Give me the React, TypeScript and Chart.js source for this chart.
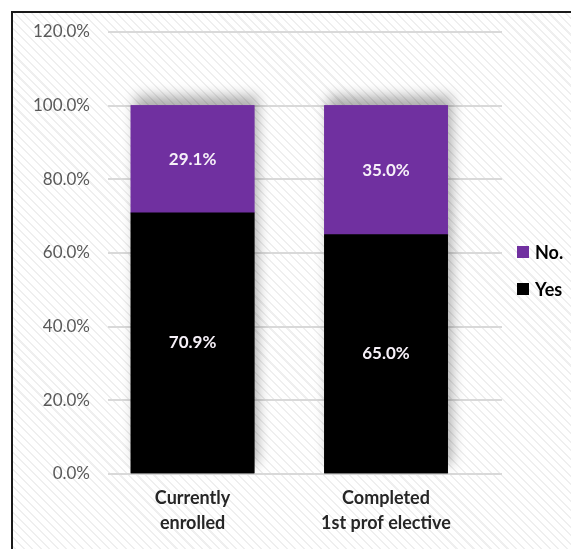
import React, { useEffect, useRef } from 'react';
import { Chart, registerables } from 'chart.js';

Chart.register(...registerables);

// Survey answers per group, stacked to 100%
const categories: string[][] = [
  ['Currently', 'enrolled'],
  ['Completed', '1st prof elective'],
];
const yesValues: number[] = [70.9, 65.0];
const noValues: number[] = [29.1, 35.0];
const yTickValues: number[] = [0, 20, 40, 60, 80, 100, 120];
const seriesNames: string[] = ['Yes', 'No.'];
const seriesColors: string[] = ['#000000', '#7030A0'];

const FONT = 'Lato, "Open Sans", "DejaVu Sans", sans-serif';

// Soft shadow under the stacked bars (bottom segment first, so the upper
// segment hides it), then the centred value labels on top
const barDecor = {
  id: 'barDecor',
  beforeDatasetsDraw(chart: any) {
    const ctx = chart.ctx;
    ctx.save();
    ctx.shadowColor = 'rgba(0,0,0,0.32)';
    ctx.shadowBlur = 12;
    ctx.shadowOffsetX = 4;
    ctx.shadowOffsetY = -9;
    chart.data.datasets.forEach((_: any, di: number) => {
      chart.getDatasetMeta(di).data.forEach((el: any) => el.draw(ctx));
    });
    ctx.restore();
  },
  afterDatasetsDraw(chart: any) {
    const ctx = chart.ctx;
    ctx.save();
    ctx.font = `bold 17px ${FONT}`;
    ctx.fillStyle = '#f6f0f8';
    ctx.textAlign = 'center';
    ctx.textBaseline = 'middle';
    chart.data.datasets.forEach((ds: any, di: number) => {
      const meta = chart.getDatasetMeta(di);
      meta.data.forEach((el: any, i: number) => {
        const v = ds.data[i].y as number;
        const { x, y, base } = el.getProps(['x', 'y', 'base'], true);
        ctx.fillText(v.toFixed(1) + '%', x, (y + base) / 2);
      });
    });
    ctx.restore();
  },
};

// Legend stacked on the right, top series first
const sideLegend = {
  id: 'sideLegend',
  afterDraw(chart: any) {
    const { ctx, chartArea } = chart;
    const x = chartArea.right + 15;
    const mid = (chartArea.top + chartArea.bottom) / 2;
    const rowGap = 37;
    const items = chart.data.datasets.slice().reverse();
    ctx.save();
    ctx.font = `bold 18px ${FONT}`;
    ctx.textBaseline = 'middle';
    ctx.textAlign = 'left';
    items.forEach((d: any, i: number) => {
      const cy = mid - 1 + i * rowGap;
      ctx.fillStyle = d.backgroundColor;
      ctx.fillRect(x, cy - 6, 12, 12);
      ctx.fillStyle = '#000000';
      ctx.fillText(d.label, x + 18, cy + 1);
    });
    ctx.restore();
  },
};

function StackedChart() {
  const canvasRef = useRef<HTMLCanvasElement | null>(null);

  useEffect(() => {
    if (!canvasRef.current) return;
    const chart = new Chart(canvasRef.current, {
      type: 'bar',
      data: {
        datasets: [
          {
            label: seriesNames[0],
            data: yesValues.map((v, i) => ({ x: i, y: v })),
            backgroundColor: seriesColors[0],
            barThickness: 123,
          },
          {
            label: seriesNames[1],
            data: noValues.map((v, i) => ({ x: i, y: v })),
            backgroundColor: seriesColors[1],
            barThickness: 123,
          },
        ],
      },
      options: {
        animation: false,
        responsive: true,
        maintainAspectRatio: false,
        layout: { padding: { top: 19, right: 69, bottom: 0, left: 0 } },
        plugins: {
          legend: { display: false },
          tooltip: { enabled: false },
        },
        scales: {
          x: {
            type: 'linear',
            stacked: true,
            offset: false,
            bounds: 'data',
            min: -0.437,
            max: 1.5995,
            grid: { display: false, drawTicks: false, offset: false },
            border: { display: false },
            afterBuildTicks: (axis: any) => {
              axis.ticks = categories.map((_, i) => ({ value: i }));
            },
            afterFit: (axis: any) => {
              axis.height = 75;
            },
            ticks: {
              autoSkip: false,
              maxRotation: 0,
              padding: 12,
              color: '#262626',
              font: { family: FONT, size: 18, weight: 'bold', lineHeight: 25 / 18 },
              callback: (v: any) => categories[Number(v)],
            },
          },
          y: {
            stacked: true,
            min: 0,
            max: 120,
            afterBuildTicks: (axis: any) => {
              axis.ticks = yTickValues.map((v) => ({ value: v }));
            },
            afterFit: (axis: any) => {
              axis.width = 95;
              axis.paddingTop = 10;
              axis.paddingBottom = 10;
            },
            grid: { color: '#d9d9d9', lineWidth: 2, drawTicks: false },
            border: { display: false },
            ticks: {
              padding: 18,
              color: '#595959',
              font: { family: FONT, size: 17 },
              callback: (v: any) => Number(v).toFixed(1) + '%',
            },
          },
        },
      } as any,
      plugins: [barDecor, sideLegend],
    });
    return () => chart.destroy();
  }, []);

  return (
    <div style={{ position: 'relative', width: 558, height: 536 }}>
      <canvas ref={canvasRef} />
    </div>
  );
}

export default function App() {
  return (
    <div
      style={{
        position: 'fixed',
        left: 0,
        top: 0,
        width: 571,
        height: 549,
        overflow: 'hidden',
        background: '#ffffff',
      }}
    >
      <div
        style={{
          position: 'absolute',
          left: 11,
          top: 11,
          width: 620,
          height: 600,
          borderTop: '2px solid #1a1a1a',
          borderLeft: '2px solid #1a1a1a',
          background:
            'repeating-linear-gradient(45deg, #ffffff 0px, #ffffff 4.5px, #efefef 4.5px, #efefef 6px)',
        }}
      >
        <StackedChart />
      </div>
    </div>
  );
}
